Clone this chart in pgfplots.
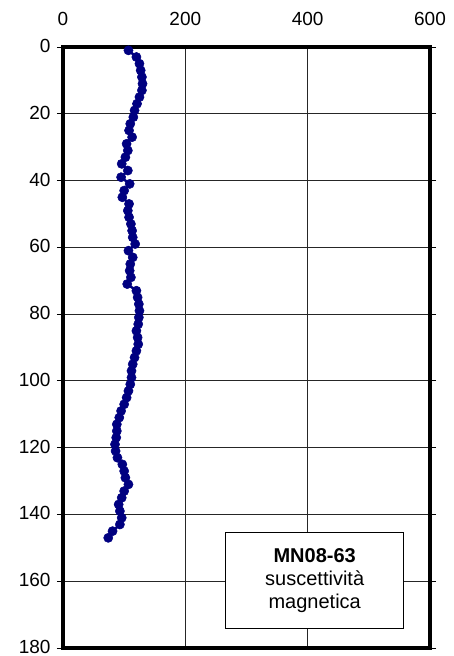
\documentclass[border=0pt]{standalone}
\usepackage{fontspec}
\setmainfont{Liberation Sans}
\usepackage{pgfplots}
\pgfplotsset{compat=1.18}
\definecolor{navy}{RGB}{0,0,128}
\begin{document}
\begin{tikzpicture}
\begin{axis}[
  at={(0,0)}, anchor=south west,
  scale only axis, width=367pt, height=601pt,
  xmin=0, xmax=600, ymin=0, ymax=180,
  y dir=reverse,
  xtick={0,200,400,600}, ytick={0,20,...,180},
  xticklabel pos=top,
  grid=major,
  major grid style={black!85, line width=0.8pt},
  axis line style={line width=3.5pt},
  tick align=outside, major tick length=6pt,
  xtick style={draw=none},
  ytick style={black, line width=0.8pt},
  ticklabel style={font=\fontsize{19}{22}\selectfont},
  /pgf/number format/assume math mode=true,
  xticklabel style={yshift=12pt},
  yticklabel style={xshift=-3pt, yshift=1pt},
  clip=false,
]
\addplot[navy, line width=2.5pt, mark=*, mark size=4.6pt, mark options={fill=navy, draw=navy, line width=0.5pt}]
table {
x y
107 1
120 3
125 5
127 7
129 9
130 11
129 13
125 15
121 17
117 19
115 21
110 23
108 25
113 27
104 29
106 31
102 33
96 35
106 37
95 39
109 41
100 43
97 45
108 47
106 49
108 51
111 53
113 55
114 57
118 59
107 61
114 63
110 65
109 67
111 69
105 71
120 73
122 75
124 77
125 79
124 81
123 83
120 85
122 87
123 89
120 91
117 93
114 95
112 97
112 99
110 101
107 103
104 105
100 107
95 109
92 111
88 113
88 115
87 117
85 119
86 121
89 123
97 125
100 127
102 129
107 131
100 133
96 135
91 137
93 139
96 141
93 143
81 145
74 147
};
\node[draw=black, line width=0.8pt, fill=white, align=center,
      minimum width=178pt, minimum height=96pt, inner sep=2pt,
      font=\fontsize{20}{23}\selectfont]
  at (axis cs:411.5,159.7) {\textbf{MN08-63}\\suscettività\\magnetica};
\end{axis}
\pgfresetboundingbox
\path (-63pt,-8pt) rectangle (390pt,648pt);
\end{tikzpicture}
\end{document}
